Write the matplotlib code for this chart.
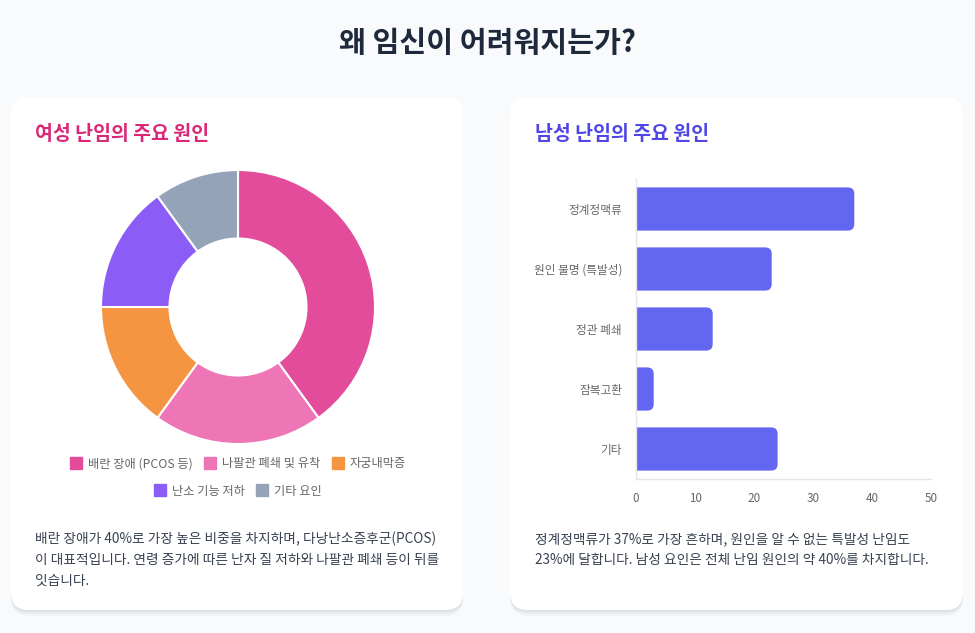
import matplotlib
matplotlib.use("Agg")
from matplotlib import pyplot as plt
from matplotlib.patches import FancyBboxPatch
from matplotlib.lines import Line2D

plt.rcParams['font.family'] = ['Noto Sans CJK KR', 'DejaVu Sans']

# Data
female_causes = ['배란 장애 (PCOS 등)', '나팔관 폐쇄 및 유착', '자궁내막증', '난소 기능 저하', '기타 요인']
female_values = [40, 20, 15, 15, 10]
female_colors = ['#e24c9a', '#ee75b6', '#f59542', '#8b5cf6', '#94a3b8']

male_causes = ['정계정맥류', '원인 불명 (특발성)', '정관 폐쇄', '잠복고환', '기타']
male_values = [37, 23, 13, 3, 24]
male_ticks = [0, 10, 20, 30, 40, 50]

W, H = 975, 633


def fx(x):
    return x / W


def fy(y):
    return 1 - y / H


fig = plt.figure(figsize=(W / 100, H / 100), dpi=100)
fig.patch.set_facecolor('#f8fafc')


def card(x0, y0, x1, y1):
    # soft shadow
    for off, a in [(6, 0.025), (4, 0.035), (2, 0.05)]:
        sh = FancyBboxPatch((fx(x0), fy(y1 + off)), fx(x1 - x0), (y1 - y0) / H,
                            boxstyle="round,pad=0,rounding_size=0.018",
                            mutation_aspect=W / H,
                            transform=fig.transFigure, facecolor='#0f172a',
                            edgecolor='none', alpha=a, zorder=-3)
        fig.patches.append(sh)
    c = FancyBboxPatch((fx(x0), fy(y1)), fx(x1 - x0), (y1 - y0) / H,
                       boxstyle="round,pad=0,rounding_size=0.018",
                       mutation_aspect=W / H,
                       transform=fig.transFigure, facecolor='white',
                       edgecolor='none', zorder=-2)
    fig.patches.append(c)


card(11, 97, 463, 610)
card(510, 97, 963, 610)

fig.text(0.5, fy(43), '왜 임신이 어려워지는가?', ha='center', va='center',
         fontsize=21, fontweight='bold', color='#1e293b')
fig.text(fx(35), fy(134), '여성 난임의 주요 원인', ha='left', va='center',
         fontsize=14, fontweight='bold', color='#db2777')
fig.text(fx(535), fy(134), '남성 난임의 주요 원인', ha='left', va='center',
         fontsize=14, fontweight='bold', color='#4f46e5')

# Donut
r_px = 137
ax1 = fig.add_axes([fx(238 - 140), fy(307 + 140), fx(280), 280 / H])
ax1.pie(female_values, colors=female_colors, startangle=90, counterclock=False,
        radius=1, wedgeprops=dict(width=0.5, edgecolor='white', linewidth=1.5))
ax1.set_xlim(-140 / r_px, 140 / r_px)
ax1.set_ylim(-140 / r_px, 140 / r_px)
ax1.set_aspect('equal')
ax1.axis('off')

handles = [Line2D([], [], marker='s', linestyle='None', markersize=8,
                  markerfacecolor=c, markeredgecolor=c) for c in female_colors]
leg1 = fig.legend(handles[:3], female_causes[:3], loc='center', ncol=3,
                  bbox_to_anchor=(fx(238), fy(464)), frameon=False,
                  fontsize=8.8, handlelength=1, handletextpad=0.5, columnspacing=0.9,
                  labelcolor='#666666')
leg2 = fig.legend(handles[3:], female_causes[3:], loc='center', ncol=2,
                  bbox_to_anchor=(fx(238), fy(491)), frameon=False,
                  fontsize=8.8, handlelength=1, handletextpad=0.5, columnspacing=0.9,
                  labelcolor='#666666')

left_lines = ['배란 장애가 40%로 가장 높은 비중을 차지하며, 다낭난소증후군(PCOS)',
              '이 대표적입니다. 연령 증가에 따른 난자 질 저하와 나팔관 폐쇄 등이 뒤를',
              '잇습니다.']
for i, line in enumerate(left_lines):
    fig.text(fx(35), fy(539 + 21 * i), line, ha='left', va='center',
             fontsize=9.85, color='#374151')

right_lines = ['정계정맥류가 37%로 가장 흔하며, 원인을 알 수 없는 특발성 난임도',
               '23%에 달합니다. 남성 요인은 전체 난임 원인의 약 40%를 차지합니다.']
for i, line in enumerate(right_lines):
    fig.text(fx(535), fy(539 + 21 * i), line, ha='left', va='center',
             fontsize=9.85, color='#374151')

# Horizontal bars
ax2 = fig.add_axes([fx(636), fy(479), fx(931 - 636), 300 / H])
ypos = list(range(len(male_causes)))
bars = ax2.barh(ypos, male_values, height=0.72, color='none')
ax2.set_xlim(0, 50)
ax2.set_ylim(len(male_causes) - 0.5, -0.5)
# rounded right ends, left end clipped by the axis
px_x = 295 / 50
px_y = 300 / len(male_causes)
for b in bars:
    x0 = b.get_x() - 2
    w = b.get_width() + 2
    rb = FancyBboxPatch((x0, b.get_y()), w, b.get_height(),
                        boxstyle="round,pad=0,rounding_size=1.1",
                        mutation_aspect=px_x / px_y,
                        facecolor='#6366f1', edgecolor='none', zorder=2)
    ax2.add_patch(rb)
ax2.set_yticks(ypos)
ax2.set_yticklabels(male_causes)
ax2.set_xticks(male_ticks)
ax2.tick_params(axis='both', length=0, labelsize=8.4, labelcolor='#666666')
ax2.tick_params(axis='y', pad=10)
ax2.tick_params(axis='x', pad=9)
for s in ['top', 'right']:
    ax2.spines[s].set_visible(False)
for s in ['left', 'bottom']:
    ax2.spines[s].set_color('#e5e5e5')
    ax2.spines[s].set_linewidth(1)
ax2.set_facecolor('none')

fig.savefig('out.png', dpi=100, facecolor=fig.get_facecolor())
